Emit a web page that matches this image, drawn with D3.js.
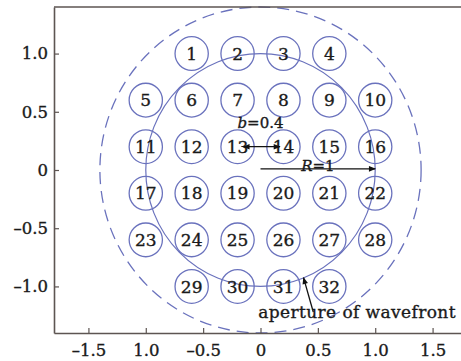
<!DOCTYPE html>
<html>
<head>
<meta charset="utf-8">
<script src="https://cdn.jsdelivr.net/npm/d3@7"></script>
<style>
  body { margin: 0; background: #fff; }
  svg { display: block; }
  text { font-family: "DejaVu Serif", serif; fill: #1a1a1a; stroke: #1a1a1a; stroke-width: 0.35px; }
</style>
</head>
<body>
<div id="container"></div>
<script>
// sub-aperture centres, numbered row by row
var subX = [-0.6, -0.2, 0.2, 0.6,
            -1.0, -0.6, -0.2, 0.2, 0.6, 1.0,
            -1.0, -0.6, -0.2, 0.2, 0.6, 1.0,
            -1.0, -0.6, -0.2, 0.2, 0.6, 1.0,
            -1.0, -0.6, -0.2, 0.2, 0.6, 1.0,
            -0.6, -0.2, 0.2, 0.6];
var subY = [1.0, 1.0, 1.0, 1.0,
            0.6, 0.6, 0.6, 0.6, 0.6, 0.6,
            0.2, 0.2, 0.2, 0.2, 0.2, 0.2,
            -0.2, -0.2, -0.2, -0.2, -0.2, -0.2,
            -0.6, -0.6, -0.6, -0.6, -0.6, -0.6,
            -1.0, -1.0, -1.0, -1.0];
var subLabels = d3.range(1, 33);
var subR = 0.145;

var apertureR = 1.0;     // solid circle, R = 1
var outerR = 1.4;        // dashed circle, R + b

var xTicks = [-1.5, -1.0, -0.5, 0, 0.5, 1.0, 1.5];
var xTickLabels = ['\u20131.5', '1.0', '\u20130.5', '0', '0.5', '1.0', '1.5'];
var yTicks = [1.0, 0.5, 0, -0.5, -1.0];
var yTickLabels = ['1.0', '0.5', '0', '\u20130.5', '\u20131.0'];

function main(){
    var W = 461, H = 361;
    var blue = '#6a72bd';

    var svg = d3.select('#container')
        .append('svg')
        .attr('width', W)
        .attr('height', H);

    var x = d3.scaleLinear().domain([-1.8, 1.8]).range([54, 467]);
    var y = d3.scaleLinear().domain([-1.4, 1.4]).range([333, 7]);
    var ux = x(1) - x(0), uy = y(0) - y(1);

    var defs = svg.append('defs');
    defs.append('marker')
        .attr('id', 'head')
        .attr('viewBox', '0 0 10 10')
        .attr('refX', 9).attr('refY', 5)
        .attr('markerWidth', 10).attr('markerHeight', 7)
        .attr('markerUnits', 'userSpaceOnUse')
        .attr('orient', 'auto-start-reverse')
        .append('path')
        .attr('d', 'M0,1 L10,5 L0,9 Z')
        .attr('fill', '#111');

    // dashed outer circle
    svg.append('ellipse')
        .attr('cx', x(0)).attr('cy', y(0))
        .attr('rx', outerR * ux).attr('ry', outerR * uy)
        .attr('fill', 'none')
        .attr('stroke', blue)
        .attr('stroke-width', 1.3)
        .attr('stroke-dasharray', '12,7');

    // solid aperture circle
    svg.append('ellipse')
        .attr('cx', x(0)).attr('cy', y(0))
        .attr('rx', apertureR * ux).attr('ry', apertureR * uy)
        .attr('fill', 'none')
        .attr('stroke', blue)
        .attr('stroke-width', 1.2);

    // sub-apertures
    var subs = svg.append('g').selectAll('g')
        .data(subLabels)
        .enter().append('g')
        .attr('transform', function(d, i){ return 'translate(' + x(subX[i]) + ',' + y(subY[i]) + ')'; });

    subs.append('ellipse')
        .attr('rx', subR * ux).attr('ry', subR * uy)
        .attr('fill', 'none')
        .attr('stroke', blue)
        .attr('stroke-width', 1.3);

    subs.append('text')
        .attr('text-anchor', 'middle')
        .attr('dy', '0.36em')
        .style('font-size', '17px')
        .text(function(d){ return d; });

    // b arrow between 13 and 14
    svg.append('line')
        .attr('x1', x(-0.15)).attr('y1', y(0.2))
        .attr('x2', x(0.17)).attr('y2', y(0.2))
        .attr('stroke', '#111').attr('stroke-width', 1.3)
        .attr('marker-start', 'url(#head)')
        .attr('marker-end', 'url(#head)');
    var bt = svg.append('text')
        .attr('x', x(0.0)).attr('y', y(0.36))
        .attr('text-anchor', 'middle')
        .style('font-size', '15px');
    bt.append('tspan').style('font-style', 'italic').text('b');
    bt.append('tspan').text('=0.4');

    // R arrow
    svg.append('line')
        .attr('x1', x(0)).attr('y1', y(0.01))
        .attr('x2', x(1.0)).attr('y2', y(0.01))
        .attr('stroke', '#111').attr('stroke-width', 1.3)
        .attr('marker-end', 'url(#head)');
    var rt = svg.append('text')
        .attr('x', x(0.5)).attr('y', y(-0.01))
        .attr('text-anchor', 'middle')
        .style('font-size', '15px');
    rt.append('tspan').style('font-style', 'italic').text('R');
    rt.append('tspan').text('=1');

    // aperture annotation
    svg.append('line')
        .attr('x1', x(0.46)).attr('y1', y(-1.22))
        .attr('x2', x(0.375)).attr('y2', y(-0.925))
        .attr('stroke', '#111').attr('stroke-width', 1.3)
        .attr('marker-end', 'url(#head)');
    svg.append('text')
        .attr('x', x(-0.02)).attr('y', y(-1.27))
        .style('font-size', '17px')
        .style('letter-spacing', '0.4px')
        .text('aperture of wavefront');

    // axes
    var axisColor = '#5d5552';
    var xAxis = svg.append('g')
        .attr('transform', 'translate(0,' + y(-1.4) + ')')
        .call(d3.axisBottom(x).tickValues(xTicks).tickSizeInner(-5).tickSizeOuter(0)
            .tickFormat(function(d, i){ return xTickLabels[i]; }));
    var yAxis = svg.append('g')
        .attr('transform', 'translate(' + x(-1.8) + ',0)')
        .call(d3.axisLeft(y).tickValues(yTicks).tickSizeInner(-5).tickSizeOuter(0)
            .tickFormat(function(d, i){ return yTickLabels[i]; }));

    [xAxis, yAxis].forEach(function(a){
        a.select('.domain').attr('stroke', axisColor).attr('stroke-width', 1.6);
        a.selectAll('.tick line').attr('stroke', axisColor).attr('stroke-width', 1.2);
        a.selectAll('.tick text')
            .attr('fill', '#1a1a1a')
            .style('font-family', '"DejaVu Serif", serif')
            .style('font-size', '16.5px');
    });
    xAxis.selectAll('.tick text').attr('y', 11);
    yAxis.selectAll('.tick text').attr('x', -6);

    // top frame line
    svg.append('line')
        .attr('x1', x(-1.8)).attr('y1', y(1.4))
        .attr('x2', W).attr('y2', y(1.4))
        .attr('stroke', axisColor).attr('stroke-width', 1.6);
}
main();
</script>
</body>
</html>
